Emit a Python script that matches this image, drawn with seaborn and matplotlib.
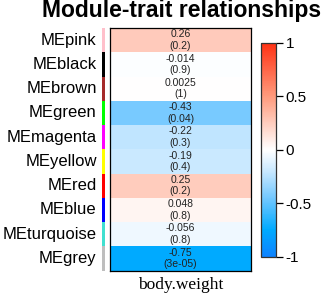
import numpy as np
import pandas as pd
import matplotlib
matplotlib.use("Agg")
import matplotlib.pyplot as plt
import seaborn as sns
from matplotlib.colors import LinearSegmentedColormap, ListedColormap

# module eigengene vs trait correlations
modules = ["MEpink", "MEblack", "MEbrown", "MEgreen", "MEmagenta",
           "MEyellow", "MEred", "MEblue", "MEturquoise", "MEgrey"]
module_colors = ["pink", "black", "brown", "#00FF00", "magenta",
                 "yellow", "red", "blue", "turquoise", "#BEBEBE"]
trait = ["body.weight"]
cor = [0.26, -0.014, 0.0025, -0.43, -0.22, -0.19, 0.25, 0.048, -0.056, -0.75]
pvals = ["0.2", "0.9", "1", "0.04", "0.3", "0.4", "0.2", "0.8", "0.8", "3e-05"]
cbar_ticks = [-1, -0.5, 0, 0.5, 1]

df = pd.DataFrame({trait[0]: cor}, index=modules)
labels = np.array([[f"{c:.2g}\n({p})"] for c, p in zip(cor, pvals)])

# blue-white-red palette
anchors = [(0.0, (13, 130, 255)), (0.125, (0, 170, 255)), (0.275, (115, 200, 255)),
           (0.4, (200, 232, 255)), (0.5, (255, 255, 255)), (0.625, (255, 205, 190)),
           (0.75, (255, 155, 125)), (1.0, (255, 50, 20))]
bwr = LinearSegmentedColormap.from_list(
    "bwr_wgcna", [(p, tuple(v / 255 for v in c)) for p, c in anchors])

W, H = 325, 294
fig = plt.figure(figsize=(W / 100, H / 100), dpi=100)

def box(x0, y0, x1, y1):
    return [x0 / W, 1 - y1 / H, (x1 - x0) / W, (y1 - y0) / H]

ax = fig.add_axes(box(110, 28, 251, 270.5))
cax = fig.add_axes(box(261, 43, 276, 257))
sax = fig.add_axes(box(101.5, 28, 105.5, 270.5))

sns.heatmap(df, ax=ax, cmap=bwr, vmin=-1, vmax=1, annot=labels, fmt="",
            annot_kws={"fontsize": 7.5, "color": "#222222", "linespacing": 1.2,
                       "family": "Liberation Sans"},
            cbar_ax=cax, cbar_kws={"ticks": cbar_ticks}, yticklabels=False,
            xticklabels=trait)
for s in ax.spines.values():
    s.set_visible(True)
    s.set_linewidth(0.9)
ax.tick_params(axis="x", length=0, pad=4.5)
ax.set_xticklabels(trait, fontsize=12.5, family="Liberation Serif")
ax.set_ylabel("")

cb = ax.collections[0].colorbar
cb.outline.set_visible(True)
cb.outline.set_linewidth(0.9)
cb.outline.set_edgecolor("#333333")
cax.tick_params(length=5, width=0.9, labelsize=11, pad=2)
cax.set_yticklabels([f"{t:g}" for t in cbar_ticks], family="Liberation Sans")

# module colour strip
codes = pd.DataFrame({"c": range(len(modules))}, index=modules)
sns.heatmap(codes, ax=sax, cmap=ListedColormap(module_colors), cbar=False,
            xticklabels=False, yticklabels=modules)
sax.tick_params(axis="y", length=0, pad=3.5)
sax.set_yticklabels(modules, fontsize=12, family="Liberation Sans", rotation=0)
sax.set_ylabel("")

fig.text(182 / W, 1 - 11 / H, "Module-trait relationships", ha="center", va="center",
         fontsize=16.5, fontweight="bold", family="Liberation Sans")

fig.savefig("out.png", dpi=100)
